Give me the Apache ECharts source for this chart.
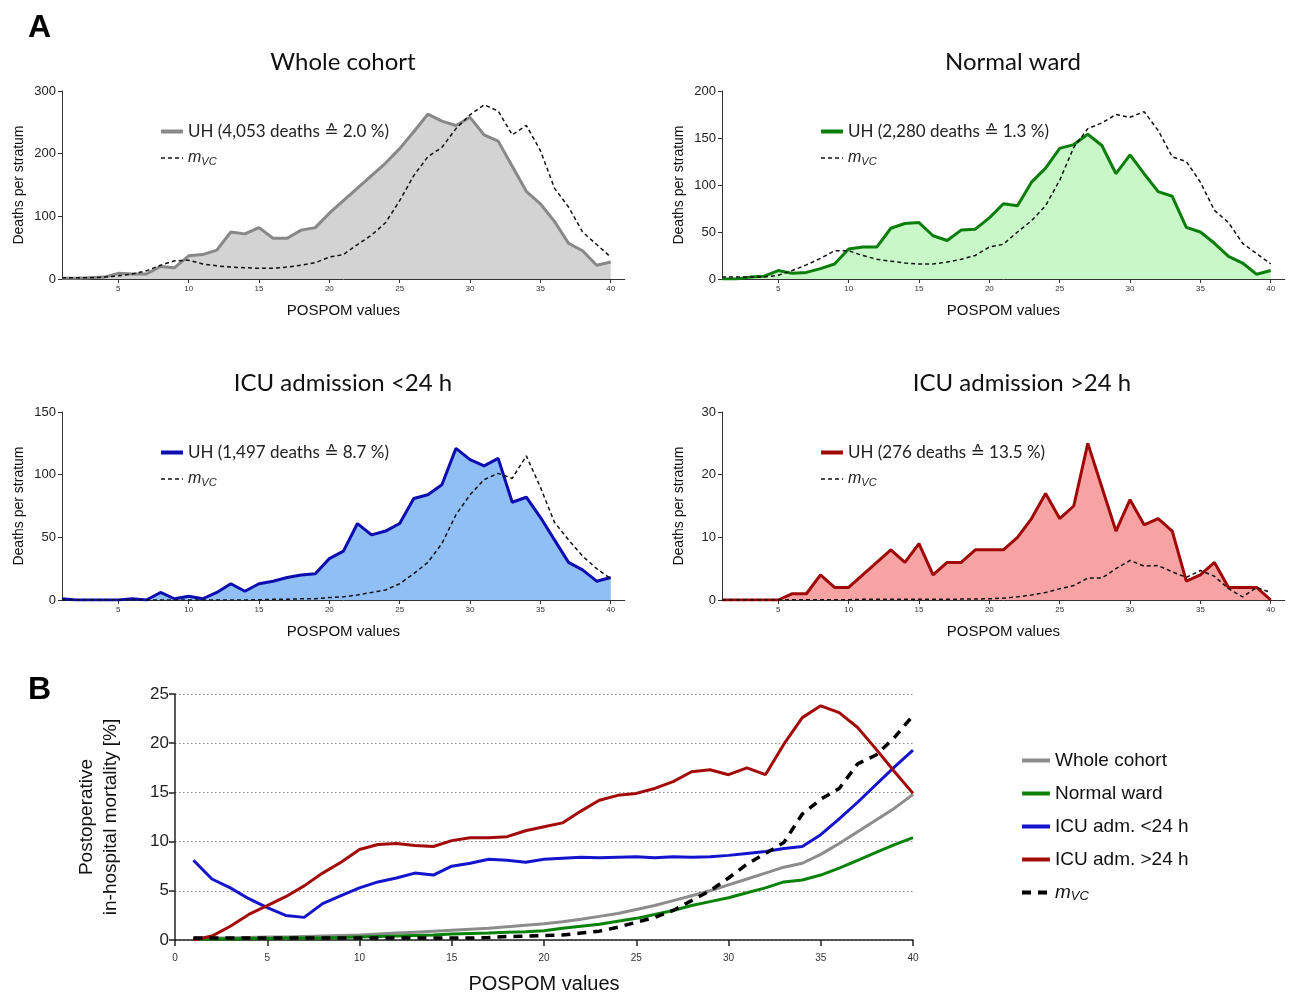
<!DOCTYPE html>
<html>
<head>
<meta charset="utf-8">
<script src="https://cdn.jsdelivr.net/npm/echarts@6/dist/echarts.min.js"></script>
<style>
  html, body { margin: 0; padding: 0; background: #fff; }
  #chart { width: 1292px; height: 992px; }
</style>
</head>
<body>
<div id="chart"></div>
<script>
// POSPOM strata
const pospom = [1, 2, 3, 4, 5, 6, 7, 8, 9, 10, 11, 12, 13, 14, 15, 16, 17, 18, 19, 20,
  21, 22, 23, 24, 25, 26, 27, 28, 29, 30, 31, 32, 33, 34, 35, 36, 37, 38, 39, 40];
const tickValues = [5, 10, 15, 20, 25, 30, 35, 40];

// A: deaths per stratum (observed UH, expected mVC)
const wholeUH = [1, 1, 2, 3, 9, 8, 8, 20, 18, 37, 39, 46, 75, 72, 82, 65, 65, 78, 82, 105,
  125, 145, 165, 185, 208, 235, 263, 252, 245, 258, 230, 220, 180, 140, 120, 92, 57, 45, 22, 27];
const wholeVC = [2, 2, 2, 3, 5, 8, 13, 22, 29, 30, 24, 21, 19, 18, 17, 17, 19, 22, 26, 35,
  39, 55, 70, 90, 125, 165, 195, 210, 240, 262, 278, 268, 230, 245, 205, 145, 115, 75, 55, 35];
const wardUH = [0, 0, 2, 3, 9, 6, 7, 11, 16, 32, 34, 34, 54, 59, 60, 46, 41, 52, 53, 65,
  80, 78, 103, 118, 139, 143, 154, 142, 112, 132, 112, 93, 88, 55, 50, 38, 24, 17, 5, 9];
const wardVC = [2, 2, 2, 2, 4, 9, 15, 22, 30, 30, 25, 21, 19, 17, 16, 16, 18, 21, 25, 34,
  37, 50, 62, 78, 105, 140, 160, 166, 175, 172, 178, 158, 130, 125, 103, 73, 60, 38, 27, 16];
const icuShortUH = [1, 0, 0, 0, 0, 1, 0, 6, 1, 3, 1, 6, 13, 7, 13, 15, 18, 20, 21, 33,
  39, 61, 52, 55, 61, 81, 84, 92, 121, 112, 107, 113, 78, 82, 66, 48, 30, 24, 15, 18];
const icuShortVC = [0, 0, 0, 0, 0, 0, 0, 0, 0, 0, 0, 0, 0, 0, 0.2, 0.5, 0.5, 1, 1, 2,
  2.5, 4, 6, 8, 13, 21, 30, 45, 68, 84, 96, 101, 97, 115, 90, 62, 48, 35, 25, 17];
const icuLongUH = [0, 0, 0, 0, 0, 1, 1, 4, 2, 2, 4, 6, 8, 6, 9, 4, 6, 6, 8, 8,
  8, 10, 13, 17, 13, 15, 25, 18, 11, 16, 12, 13, 11, 3, 4, 6, 2, 2, 2, 0];
const icuLongVC = [0, 0, 0, 0, 0, 0.05, 0.05, 0.05, 0.05, 0.05, 0.1, 0.1, 0.1, 0.1, 0.1, 0.1, 0.1, 0.15, 0.15, 0.2,
  0.3, 0.5, 0.8, 1.2, 1.8, 2.3, 3.5, 3.5, 5, 6.3, 5.4, 5.5, 4.5, 3.6, 4.7, 3.8, 1.8, 0.5, 2, 1.2];

// B: postoperative in-hospital mortality [%]
const mortWhole = [0.2, 0.2, 0.2, 0.25, 0.3, 0.3, 0.35, 0.4, 0.45, 0.5, 0.6, 0.7, 0.8, 0.9, 1.0, 1.1, 1.2, 1.35, 1.5, 1.65,
  1.85, 2.1, 2.4, 2.7, 3.1, 3.5, 4.0, 4.5, 5.0, 5.6, 6.2, 6.8, 7.4, 7.8, 8.7, 9.8, 11.0, 12.2, 13.4, 14.8];
const mortWard = [0.1, 0.1, 0.1, 0.15, 0.15, 0.2, 0.2, 0.2, 0.25, 0.3, 0.35, 0.4, 0.45, 0.5, 0.6, 0.65, 0.7, 0.8, 0.85, 0.95,
  1.2, 1.4, 1.6, 1.9, 2.2, 2.6, 3.0, 3.5, 3.9, 4.3, 4.8, 5.3, 5.9, 6.1, 6.6, 7.3, 8.1, 8.9, 9.7, 10.4];
const mortIcuShort = [8.1, 6.2, 5.3, 4.2, 3.3, 2.5, 2.3, 3.7, 4.5, 5.3, 5.9, 6.3, 6.8, 6.6, 7.5, 7.8, 8.2, 8.1, 7.9, 8.2,
  8.3, 8.4, 8.35, 8.4, 8.45, 8.35, 8.45, 8.4, 8.45, 8.6, 8.8, 9.0, 9.3, 9.5, 10.7, 12.3, 14.0, 15.8, 17.6, 19.3];
const mortIcuLong = [0, 0.4, 1.4, 2.6, 3.5, 4.4, 5.5, 6.8, 7.9, 9.2, 9.7, 9.8, 9.6, 9.5, 10.1, 10.4, 10.4, 10.5, 11.1, 11.5,
  11.9, 13.1, 14.2, 14.7, 14.9, 15.4, 16.1, 17.1, 17.3, 16.8, 17.5, 16.8, 19.9, 22.6, 23.8, 23.1, 21.6, 19.4, 17.1, 14.9];
const mortVC = [0.2, 0.2, 0.2, 0.2, 0.2, 0.2, 0.2, 0.2, 0.2, 0.2, 0.2, 0.2, 0.2, 0.2, 0.2, 0.2, 0.25, 0.35, 0.4, 0.45,
  0.5, 0.7, 0.9, 1.3, 1.8, 2.3, 3.0, 4.0, 5.0, 6.3, 7.7, 8.8, 9.9, 12.8, 14.3, 15.4, 17.9, 18.8, 20.6, 22.8];

const panels = [
  { title: 'Whole cohort', uh: wholeUH, vc: wholeVC, label: 'UH (4,053 deaths \u2259 2.0 %)',
    line: '#888888', area: '#d3d3d3', yMax: 300, yStep: 100, left: 62, top: 91, cx: 343 },
  { title: 'Normal ward', uh: wardUH, vc: wardVC, label: 'UH (2,280 deaths \u2259 1.3 %)',
    line: '#0b7d0b', area: '#c8f8c8', yMax: 200, yStep: 50, left: 722, top: 91, cx: 1013 },
  { title: 'ICU admission <24 h', uh: icuShortUH, vc: icuShortVC, label: 'UH (1,497 deaths \u2259 8.7 %)',
    line: '#0c0cb0', area: '#8fbff4', yMax: 150, yStep: 50, left: 62, top: 412, cx: 343 },
  { title: 'ICU admission >24 h', uh: icuLongUH, vc: icuLongVC, label: 'UH (276 deaths \u2259 13.5 %)',
    line: '#a00808', area: '#f8a3a3', yMax: 30, yStep: 10, left: 722, top: 412, cx: 1022 }
];

const sans = '"Liberation Sans", Arial, sans-serif';
const cal = 'Lato, "DejaVu Sans", sans-serif';
const unit = 14.07;

const grids = [], xAxes = [], yAxes = [], series = [], legends = [], graphics = [];
const labelMap = {};
const vcRich = {
  i: { fontStyle: 'italic', fontSize: 16, fontFamily: sans, color: '#222' },
  s: { fontStyle: 'italic', fontSize: 11, fontFamily: sans, color: '#222', padding: [7, 0, 0, 0] }
};

panels.forEach((p, k) => {
  grids.push({ left: p.left, top: p.top, width: unit * 40, height: 188, outerBoundsMode: 'none' });
  xAxes.push({
    gridIndex: k, type: 'value', min: 1, max: 41,
    axisLine: { lineStyle: { color: '#333', width: 1 } },
    axisTick: { customValues: tickValues, length: 4, lineStyle: { color: '#333' } },
    axisLabel: { customValues: tickValues, fontSize: 8, color: '#333', fontFamily: sans, margin: 6 },
    splitLine: { show: false },
    name: 'POSPOM values', nameLocation: 'middle', nameGap: 24,
    nameTextStyle: { fontSize: 15, color: '#111', fontFamily: sans }
  });
  yAxes.push({
    gridIndex: k, type: 'value', min: 0, max: p.yMax, interval: p.yStep,
    axisLine: { show: true, lineStyle: { color: '#333', width: 1 } },
    axisTick: { show: true, length: 4, lineStyle: { color: '#333' } },
    axisLabel: { fontSize: 13, color: '#222', fontFamily: sans, margin: 6 },
    splitLine: { show: false },
    name: 'Deaths per stratum', nameLocation: 'middle', nameGap: 36,
    nameTextStyle: { fontSize: 14, color: '#111', fontFamily: sans }
  });
  const uhName = 'uh' + k, vcName = 'vc' + k;
  labelMap[uhName] = p.label;
  labelMap[vcName] = '{i|m}{s|VC}';
  series.push({
    name: uhName, type: 'line', xAxisIndex: k, yAxisIndex: k,
    data: pospom.map((x, i) => [x, p.uh[i]]),
    symbol: 'none', lineStyle: { color: p.line, width: 3 }, itemStyle: { color: p.line },
    areaStyle: { color: p.area, opacity: 1 }, z: 2
  });
  series.push({
    name: vcName, type: 'line', xAxisIndex: k, yAxisIndex: k,
    data: pospom.map((x, i) => [x, p.vc[i]]),
    symbol: 'none', lineStyle: { color: '#111', width: 1.5, type: [4, 3] }, itemStyle: { color: '#111' }, z: 3
  });
  legends.push({
    data: [
      { name: uhName, lineStyle: { width: 4 } },
      { name: vcName, lineStyle: { width: 1.5 } }
    ],
    orient: 'vertical', left: p.left + 92, top: p.top + 27,
    itemWidth: 22, itemHeight: 12, itemGap: 10, selectedMode: false,
    itemStyle: { opacity: 0 },
    formatter: n => labelMap[n],
    textStyle: { fontSize: 17, color: '#222', fontFamily: cal, rich: vcRich }
  });
  graphics.push({
    type: 'text', x: p.cx, y: p.top - 29,
    style: { text: p.title, font: '24px ' + cal, fill: '#111', textAlign: 'center', textVerticalAlign: 'middle' }
  });
});

// Panel B
const bIdx = 4;
grids.push({ left: 175, top: 694, width: 738, height: 246, outerBoundsMode: 'none' });
xAxes.push({
  gridIndex: bIdx, type: 'value', min: 0, max: 40, interval: 5,
  axisLine: { lineStyle: { color: '#222', width: 1.5 } },
  axisTick: { length: 6, lineStyle: { color: '#222', width: 1.5 } },
  axisLabel: { fontSize: 10, color: '#333', fontFamily: sans, margin: 13 },
  splitLine: { show: false },
  name: 'POSPOM values', nameLocation: 'middle', nameGap: 34,
  nameTextStyle: { fontSize: 20, color: '#111', fontFamily: sans }
});
yAxes.push({
  gridIndex: bIdx, type: 'value', min: 0, max: 25, interval: 5,
  axisLine: { show: true, lineStyle: { color: '#222', width: 1.5 } },
  axisTick: { show: true, length: 6, lineStyle: { color: '#222', width: 1.5 } },
  axisLabel: { fontSize: 17, color: '#222', fontFamily: sans, margin: 6 },
  splitLine: { show: true, lineStyle: { color: '#888', width: 1, type: [1.5, 2.5] } },
  name: 'Postoperative\nin-hospital mortality [%]', nameLocation: 'middle', nameGap: 52,
  nameTextStyle: { fontSize: 19, color: '#111', fontFamily: sans, lineHeight: 24 }
});
const bLines = [
  { name: 'Whole cohort', data: mortWhole, color: '#8c8c8c' },
  { name: 'Normal ward', data: mortWard, color: '#0a820a' },
  { name: 'ICU adm. <24 h', data: mortIcuShort, color: '#1414cc' },
  { name: 'ICU adm. >24 h', data: mortIcuLong, color: '#a30a0a' }
];
bLines.forEach(l => {
  labelMap[l.name] = l.name;
  series.push({
    name: l.name, type: 'line', xAxisIndex: bIdx, yAxisIndex: bIdx,
    data: pospom.map((x, i) => [x, l.data[i]]),
    symbol: 'none', lineStyle: { color: l.color, width: 3 }, itemStyle: { color: l.color }, z: 2
  });
});
labelMap.vcB = '{i|m}{s|VC}';
series.push({
  name: 'vcB', type: 'line', xAxisIndex: bIdx, yAxisIndex: bIdx,
  data: pospom.map((x, i) => [x, mortVC[i]]),
  symbol: 'none', lineStyle: { color: '#000', width: 3.5, type: [9, 7] }, itemStyle: { color: '#000' }, z: 3
});
legends.push({
  data: ['Whole cohort', 'Normal ward', 'ICU adm. <24 h', 'ICU adm. >24 h', 'vcB'],
  orient: 'vertical', left: 1015, top: 746, itemWidth: 28, itemHeight: 14, itemGap: 14, selectedMode: false,
  itemStyle: { opacity: 0 },
  lineStyle: { width: 4 },
  formatter: n => labelMap[n],
  textStyle: {
    fontSize: 19, color: '#111', fontFamily: sans,
    rich: {
      i: { fontStyle: 'italic', fontSize: 19, fontFamily: sans, color: '#111' },
      s: { fontStyle: 'italic', fontSize: 13, fontFamily: sans, color: '#111', padding: [8, 0, 0, 0] }
    }
  }
});

graphics.push({ type: 'text', x: 28, y: 28, style: { text: 'A', font: 'bold 32px ' + sans, fill: '#000', textVerticalAlign: 'middle' } });
graphics.push({ type: 'text', x: 28, y: 690, style: { text: 'B', font: 'bold 32px ' + sans, fill: '#000', textVerticalAlign: 'middle' } });

const chart = echarts.init(document.getElementById('chart'), null, { renderer: 'canvas' });
chart.setOption({
  animation: false,
  backgroundColor: '#fff',
  grid: grids,
  xAxis: xAxes,
  yAxis: yAxes,
  legend: legends,
  series: series,
  graphic: graphics
});
</script>
</body>
</html>
